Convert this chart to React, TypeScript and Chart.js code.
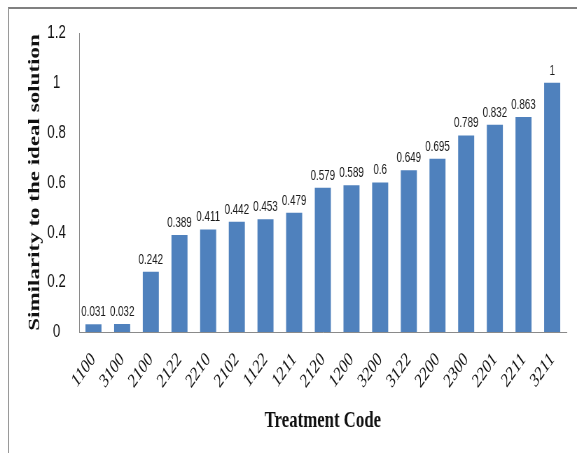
import React, { useEffect, useRef } from "react";
import { Chart, registerables } from "chart.js";

Chart.register(...registerables);

const categories = ["1100", "3100", "2100", "2122", "2210", "2102", "1122", "1211", "2120", "1200", "3200", "3122", "2200", "2300", "2201", "2211", "3211"];
const similarity = [0.031, 0.032, 0.242, 0.389, 0.411, 0.442, 0.453, 0.479, 0.579, 0.589, 0.6, 0.649, 0.695, 0.789, 0.832, 0.863, 1];
const yTicks = [0, 0.2, 0.4, 0.6, 0.8, 1, 1.2];
const yTickLabels = ["0", "0.2", "0.4", "0.6", "0.8", "1", "1.2"];
const yTitle = "Similarity to the ideal solution";
const xTitle = "Treatment Code";

// The reference picture is horizontally condensed; the chart is drawn on a wider
// canvas and squeezed with a CSS transform so that its text looks the same.
const VIEW_W = 577;
const VIEW_H = 453;
const CANVAS_W = 824;
const SQUEEZE = VIEW_W / CANVAS_W;

const valueLabels = {
  id: "valueLabels",
  afterDatasetsDraw(chart: any) {
    const ctx = chart.ctx;
    const meta = chart.getDatasetMeta(0);
    ctx.save();
    ctx.font = "14px 'Liberation Sans', Arial, sans-serif";
    ctx.fillStyle = "#1a1a1a";
    ctx.textAlign = "center";
    ctx.textBaseline = "bottom";
    meta.data.forEach((bar: any, i: number) => {
      ctx.fillText(String(similarity[i]), bar.x, bar.y - 5);
    });
    ctx.restore();
  },
};

export default function App() {
  const ref = useRef<HTMLCanvasElement | null>(null);
  useEffect(() => {
    if (!ref.current) return;
    const chart = new Chart(ref.current, {
      type: "bar",
      data: {
        labels: categories,
        datasets: [
          {
            data: similarity,
            backgroundColor: "#4F81BD",
            borderWidth: 0,
            categoryPercentage: 1,
            barPercentage: 0.56,
          },
        ],
      },
      options: {
        animation: false,
        responsive: false,
        maintainAspectRatio: false,
        layout: { padding: { left: 0, right: 15, top: 33, bottom: 0 } },
        plugins: {
          legend: { display: false },
          tooltip: { enabled: false },
        },
        scales: {
          x: {
            grid: { display: false, drawTicks: false },
            border: { display: true, color: "#8a8a8a", width: 1 },
            ticks: {
              color: "#111",
              font: { family: "'Liberation Serif', serif", size: 20 },
              maxRotation: 45,
              minRotation: 45,
              padding: 16,
              autoSkip: false,
            },
            title: {
              display: true,
              text: xTitle,
              color: "#111",
              font: { family: "'Liberation Serif', serif", size: 24, weight: "bold" },
              padding: { top: 0, bottom: 18 },
            },
            afterFit(scale: any) {
              scale.height = 121;
            },
          },
          y: {
            min: 0,
            max: 1.2,
            grid: { display: false, drawTicks: false },
            border: { display: true, color: "#8a8a8a", width: 1 },
            afterBuildTicks(scale: any) {
              scale.ticks = yTicks.map((v) => ({ value: v }));
            },
            ticks: {
              color: "#111",
              font: { family: "'Liberation Sans', Arial, sans-serif", size: 19 },
              crossAlign: "center",
              padding: 19,
              callback: (_v: any, i: number) => yTickLabels[i],
            },
            title: {
              display: true,
              text: yTitle,
              color: "#111",
              font: { family: "'Liberation Serif', serif", size: 23, weight: "bold" },
              padding: { top: 36, bottom: 0 },
            },
            afterFit(scale: any) {
              scale.width = 113;
            },
          },
        },
      },
      plugins: [valueLabels],
    });
    return () => chart.destroy();
  }, []);

  return (
    <div style={{ position: "absolute", left: 0, top: 0, width: VIEW_W, height: VIEW_H, background: "#fff", overflow: "hidden" }}>
      <div
        style={{
          position: "absolute",
          left: 0,
          top: 0,
          width: CANVAS_W,
          height: VIEW_H,
          transform: `scaleX(${SQUEEZE})`,
          transformOrigin: "0 0",
        }}
      >
        <canvas ref={ref} width={CANVAS_W} height={VIEW_H} style={{ width: CANVAS_W, height: VIEW_H, display: "block" }} />
      </div>
      <div
        style={{
          position: "absolute",
          left: 8,
          top: 7,
          right: 0,
          bottom: 0,
          borderTop: "2px solid #808080",
          borderLeft: "1px solid #9a9a9a",
          pointerEvents: "none",
        }}
      />
    </div>
  );
}
